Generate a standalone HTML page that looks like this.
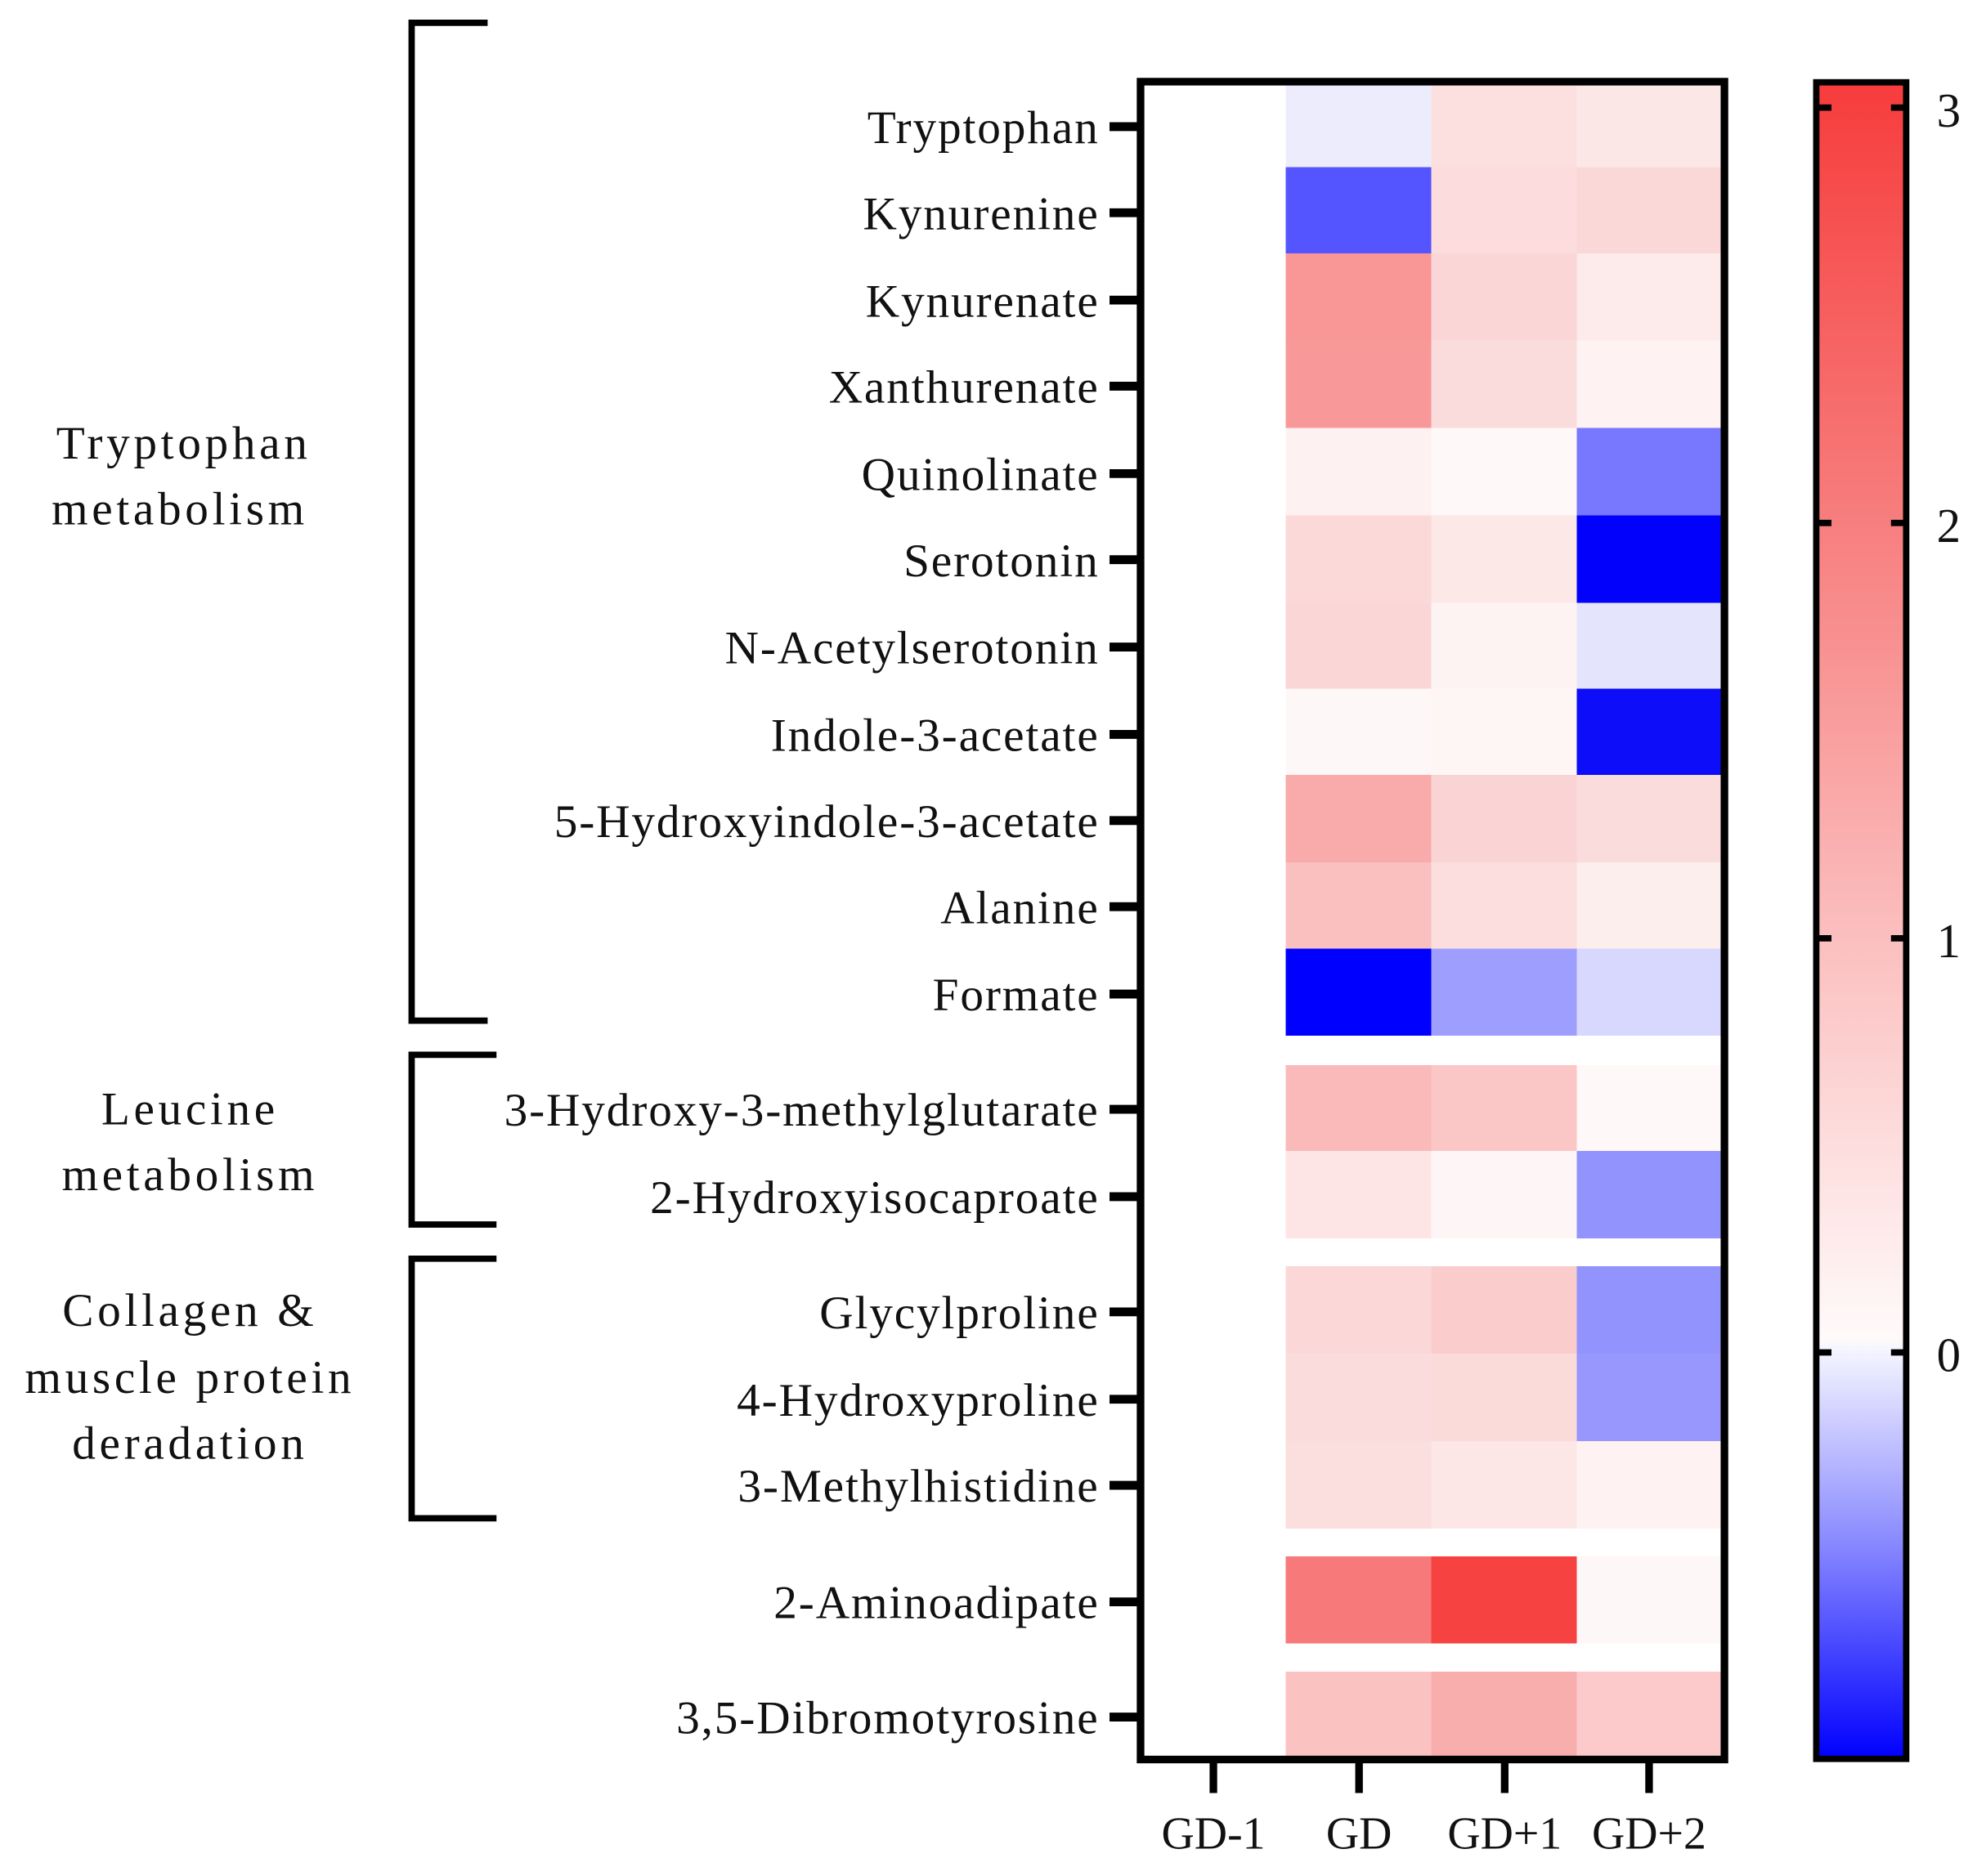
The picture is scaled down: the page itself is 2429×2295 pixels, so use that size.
<!DOCTYPE html>
<html><head><meta charset="utf-8"><style>
html,body{margin:0;padding:0;background:#fff;}
svg{display:block;}
text{font-family:"Liberation Serif",serif;fill:#111;}
</style></head><body>
<svg width="2429" height="2295" viewBox="0 0 1568 1481.5" preserveAspectRatio="none" xmlns="http://www.w3.org/2000/svg">
<defs>
<linearGradient id="cb" x1="0" y1="0" x2="0" y2="1">
<stop offset="0" stop-color="#f73c3c"/>
<stop offset="0.25" stop-color="#f77b7b"/>
<stop offset="0.5" stop-color="#fbbcbc"/>
<stop offset="0.75" stop-color="#fffafa"/>
<stop offset="0.755" stop-color="#f6f6ff"/>
<stop offset="0.87" stop-color="#8a8aff"/>
<stop offset="1" stop-color="#0000ff"/>
</linearGradient>
</defs>
<g shape-rendering="crispEdges">
<rect x="1015" y="66" width="115" height="66" fill="#ececfd"/>
<rect x="1130" y="66" width="115" height="66" fill="#fce0e0"/>
<rect x="1245" y="66" width="114" height="66" fill="#fce7e7"/>
<rect x="1015" y="132" width="115" height="68" fill="#5555ff"/>
<rect x="1130" y="132" width="115" height="68" fill="#fcdcdc"/>
<rect x="1245" y="132" width="114" height="68" fill="#fbd8d8"/>
<rect x="1015" y="200" width="115" height="69" fill="#f99797"/>
<rect x="1130" y="200" width="115" height="69" fill="#fad6d6"/>
<rect x="1245" y="200" width="114" height="69" fill="#fdeaea"/>
<rect x="1015" y="269" width="115" height="69" fill="#f99898"/>
<rect x="1130" y="269" width="115" height="69" fill="#fbdcdc"/>
<rect x="1245" y="269" width="114" height="69" fill="#fef2f2"/>
<rect x="1015" y="338" width="115" height="69" fill="#fef1f1"/>
<rect x="1130" y="338" width="115" height="69" fill="#fef8f8"/>
<rect x="1245" y="338" width="114" height="69" fill="#7878ff"/>
<rect x="1015" y="407" width="115" height="69" fill="#fbd9d9"/>
<rect x="1130" y="407" width="115" height="69" fill="#fde8e8"/>
<rect x="1245" y="407" width="114" height="69" fill="#0202fc"/>
<rect x="1015" y="476" width="115" height="68" fill="#fbd6d6"/>
<rect x="1130" y="476" width="115" height="68" fill="#fef3f3"/>
<rect x="1245" y="476" width="114" height="68" fill="#e4e4fd"/>
<rect x="1015" y="544" width="115" height="68" fill="#fef7f7"/>
<rect x="1130" y="544" width="115" height="68" fill="#fef5f5"/>
<rect x="1245" y="544" width="114" height="68" fill="#0d0dfa"/>
<rect x="1015" y="612" width="115" height="69" fill="#f9aaaa"/>
<rect x="1130" y="612" width="115" height="69" fill="#fad4d4"/>
<rect x="1245" y="612" width="114" height="69" fill="#fbdcdc"/>
<rect x="1015" y="681" width="115" height="68" fill="#fac0c0"/>
<rect x="1130" y="681" width="115" height="68" fill="#fcdede"/>
<rect x="1245" y="681" width="114" height="68" fill="#fdeeee"/>
<rect x="1015" y="749" width="115" height="69" fill="#0000ff"/>
<rect x="1130" y="749" width="115" height="69" fill="#9e9efe"/>
<rect x="1245" y="749" width="114" height="69" fill="#d8d8fe"/>
<rect x="1015" y="841" width="115" height="68" fill="#fababa"/>
<rect x="1130" y="841" width="115" height="68" fill="#fbc6c6"/>
<rect x="1245" y="841" width="114" height="68" fill="#fef9f8"/>
<rect x="1015" y="909" width="115" height="69" fill="#fde5e5"/>
<rect x="1130" y="909" width="115" height="69" fill="#fef6f6"/>
<rect x="1245" y="909" width="114" height="69" fill="#9393fe"/>
<rect x="1015" y="1000" width="115" height="69" fill="#fbd7d7"/>
<rect x="1130" y="1000" width="115" height="69" fill="#fbcccc"/>
<rect x="1245" y="1000" width="114" height="69" fill="#9393fe"/>
<rect x="1015" y="1069" width="115" height="69" fill="#fbdcdc"/>
<rect x="1130" y="1069" width="115" height="69" fill="#fbdada"/>
<rect x="1245" y="1069" width="114" height="69" fill="#9797fe"/>
<rect x="1015" y="1138" width="115" height="69" fill="#fbdfdf"/>
<rect x="1130" y="1138" width="115" height="69" fill="#fde6e6"/>
<rect x="1245" y="1138" width="114" height="69" fill="#fef2f2"/>
<rect x="1015" y="1229" width="115" height="69" fill="#f77979"/>
<rect x="1130" y="1229" width="115" height="69" fill="#f74242"/>
<rect x="1245" y="1229" width="114" height="69" fill="#fef7f7"/>
<rect x="1015" y="1320" width="115" height="68" fill="#fbc2c2"/>
<rect x="1130" y="1320" width="115" height="68" fill="#f9aeae"/>
<rect x="1245" y="1320" width="114" height="68" fill="#fccaca"/>
</g>
<rect x="900.5" y="64.5" width="461" height="1325" fill="none" stroke="#000" stroke-width="6"/>
<g stroke="#000" stroke-width="7">
<line x1="876" x2="898" y1="100" y2="100"/><line x1="876" x2="898" y1="168" y2="168"/>
<line x1="876" x2="898" y1="237" y2="237"/><line x1="876" x2="898" y1="305" y2="305"/>
<line x1="876" x2="898" y1="374" y2="374"/><line x1="876" x2="898" y1="442" y2="442"/>
<line x1="876" x2="898" y1="511" y2="511"/><line x1="876" x2="898" y1="580" y2="580"/>
<line x1="876" x2="898" y1="648" y2="648"/><line x1="876" x2="898" y1="716" y2="716"/>
<line x1="876" x2="898" y1="785" y2="785"/><line x1="876" x2="898" y1="876" y2="876"/>
<line x1="876" x2="898" y1="945" y2="945"/><line x1="876" x2="898" y1="1036" y2="1036"/>
<line x1="876" x2="898" y1="1105" y2="1105"/><line x1="876" x2="898" y1="1173" y2="1173"/>
<line x1="876" x2="898" y1="1265" y2="1265"/><line x1="876" x2="898" y1="1356" y2="1356"/>
</g>
<g stroke="#000" stroke-width="6">
<line x1="958" x2="958" y1="1392" y2="1416"/><line x1="1073" x2="1073" y1="1392" y2="1416"/>
<line x1="1188" x2="1188" y1="1392" y2="1416"/><line x1="1302" x2="1302" y1="1392" y2="1416"/>
</g>
<g font-size="37" text-anchor="end" letter-spacing="1.2">
<text x="868" y="113">Tryptophan</text>
<text x="868" y="181">Kynurenine</text>
<text x="868" y="250">Kynurenate</text>
<text x="868" y="318">Xanthurenate</text>
<text x="868" y="387">Quinolinate</text>
<text x="868" y="455">Serotonin</text>
<text x="868" y="524">N-Acetylserotonin</text>
<text x="868" y="593">Indole-3-acetate</text>
<text x="868" y="661">5-Hydroxyindole-3-acetate</text>
<text x="868" y="729">Alanine</text>
<text x="868" y="798">Formate</text>
<text x="868" y="889">3-Hydroxy-3-methylglutarate</text>
<text x="868" y="958">2-Hydroxyisocaproate</text>
<text x="868" y="1049">Glycylproline</text>
<text x="868" y="1118">4-Hydroxyproline</text>
<text x="868" y="1186">3-Methylhistidine</text>
<text x="868" y="1278">2-Aminoadipate</text>
<text x="868" y="1369">3,5-Dibromotyrosine</text>
</g>
<g font-size="36" text-anchor="middle">
<text x="958" y="1460">GD-1</text>
<text x="1073" y="1460">GD</text>
<text x="1188" y="1460">GD+1</text>
<text x="1302" y="1460">GD+2</text>
</g>
<g fill="none" stroke="#000" stroke-width="5">
<polyline points="385,18 325,18 325,806 385,806"/>
<polyline points="392,833 325,833 325,967 392,967"/>
<polyline points="392,994 325,994 325,1199 392,1199"/>
</g>
<g font-size="37" text-anchor="middle" letter-spacing="3">
<text x="145" y="362">Tryptophan</text>
<text x="142" y="414">metabolism</text>
<text x="150" y="888">Leucine</text>
<text x="150" y="940">metabolism</text>
<text x="150" y="1047">Collagen &amp;</text>
<text x="150" y="1100">muscle protein</text>
<text x="150" y="1152">deradation</text>
</g>
<rect x="1434" y="65" width="71" height="1324" fill="url(#cb)" stroke="#000" stroke-width="5"/>
<g stroke="#000" stroke-width="5">
<line x1="1434" x2="1446" y1="85" y2="85"/><line x1="1493" x2="1505" y1="85" y2="85"/>
<line x1="1434" x2="1446" y1="413" y2="413"/><line x1="1493" x2="1505" y1="413" y2="413"/>
<line x1="1434" x2="1446" y1="741" y2="741"/><line x1="1493" x2="1505" y1="741" y2="741"/>
<line x1="1434" x2="1446" y1="1068" y2="1068"/><line x1="1493" x2="1505" y1="1068" y2="1068"/>
</g>
<g font-size="38">
<text x="1529" y="100">3</text>
<text x="1529" y="428">2</text>
<text x="1529" y="756">1</text>
<text x="1529" y="1083">0</text>
</g>
</svg>
</body></html>
